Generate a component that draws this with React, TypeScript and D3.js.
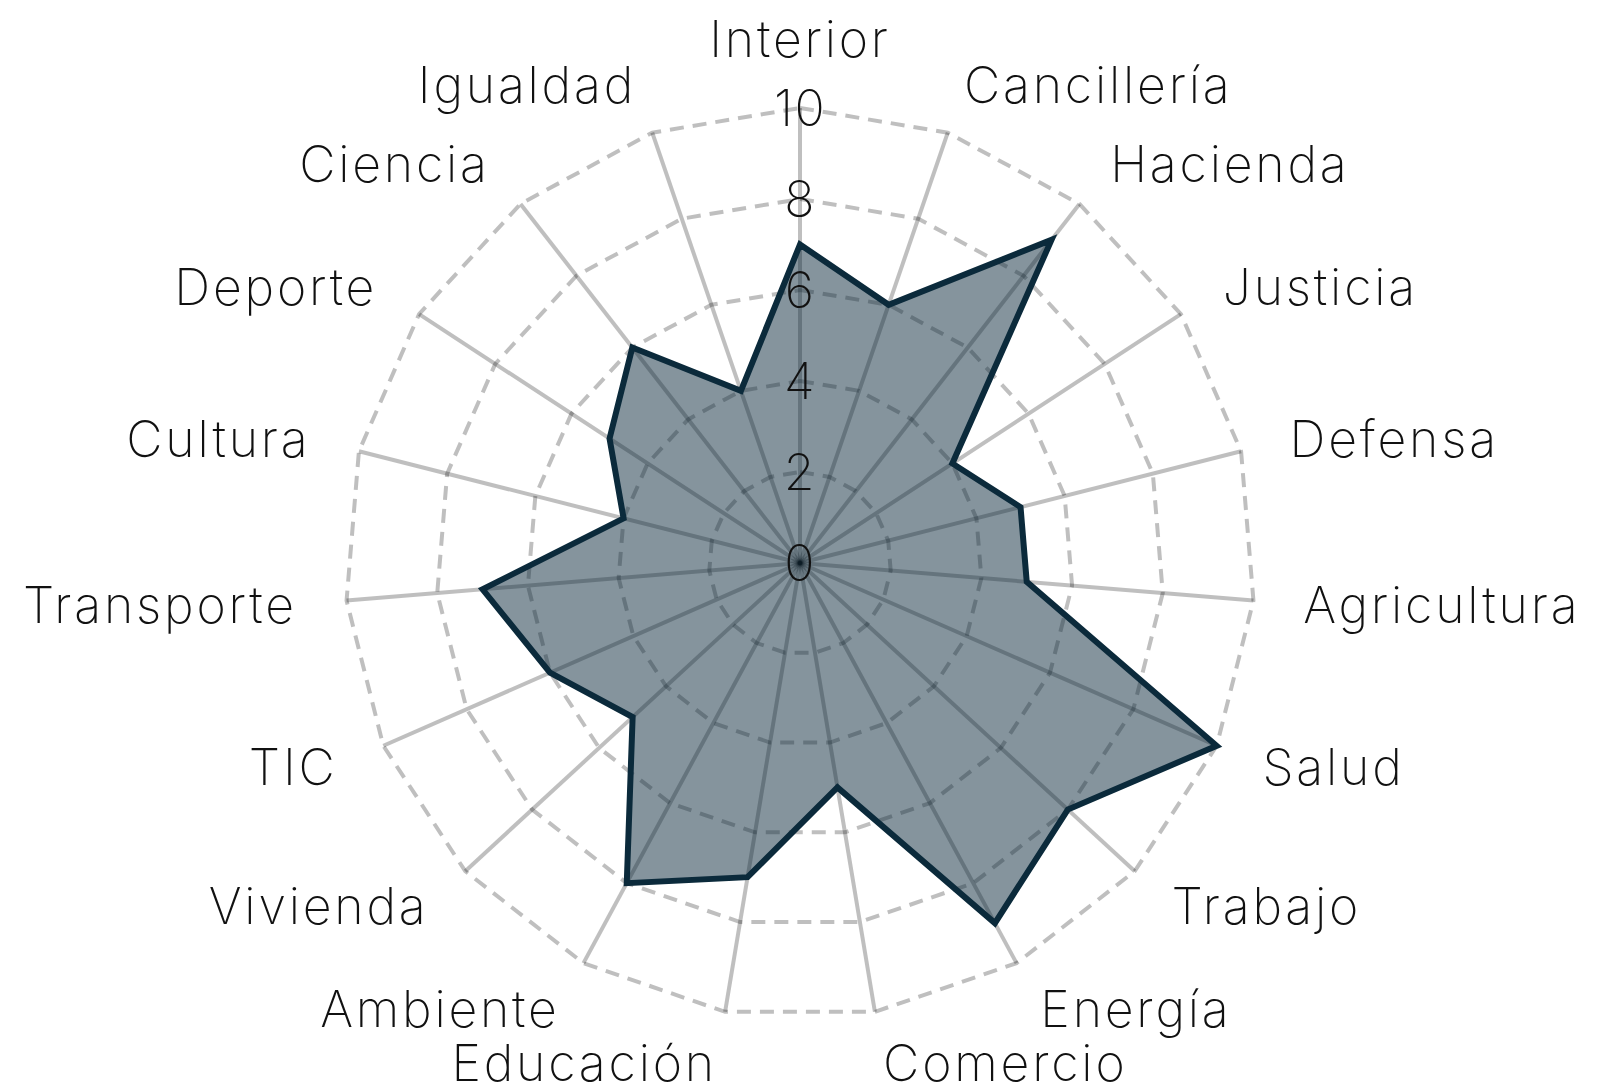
import React from "react";
import * as d3 from "d3";

const categories = ["Interior","Cancillería","Hacienda","Justicia","Defensa","Agricultura","Salud","Trabajo","Energía","Comercio","Educación","Ambiente","Vivienda","TIC","Transporte","Cultura","Deporte","Ciencia","Igualdad"];
const values = [7,6,9,4,5,5,10,8,9,5,7,8,5,6,7,4,5,6,4];
const ticks = [0,2,4,6,8,10];

const W = 1599, H = 1092;
const CX = 800, CY = 563, R = 455;
const FONT = "Inter, 'Open Sans', sans-serif";

export default function App() {
  const n = categories.length;
  const r = d3.scaleLinear().domain([0, 10]).range([0, R]);
  const ang = (i: number) => (i * 2 * Math.PI) / n;
  const pt = (i: number, v: number): [number, number] => [
    CX + r(v) * Math.sin(ang(i)),
    CY - r(v) * Math.cos(ang(i)),
  ];
  const ringPath = (v: number) =>
    d3.line()(categories.map((_, i) => pt(i, v))) + "Z";
  const dataPath =
    d3.line()(values.map((v, i) => pt(i, v))) + "Z";
  const gridColor = "rgba(0,0,0,0.25)";
  const labelR = 505;
  return (
    <svg width={W} height={H} style={{ position: "absolute", left: 0, top: 0, background: "#fff" }}>
      <g>
        {ticks.filter((t) => t > 0).map((t) => (
          <path key={t} d={ringPath(t)} fill="none" stroke={gridColor} strokeWidth={4} strokeDasharray="14,9" />
        ))}
        {categories.map((_, i) => {
          const [x, y] = pt(i, 10);
          return <line key={i} x1={CX} y1={CY} x2={x} y2={y} stroke={gridColor} strokeWidth={4} />;
        })}
      </g>
      <path d={dataPath} fill="#0b2a3b" fillOpacity={0.5} stroke="#0b2a3b" strokeWidth={6} strokeLinejoin="miter" />
      {ticks.map((t) => (
        <text key={t} x={CX} y={CY - r(t)} textAnchor="middle" dominantBaseline="central"
          fontFamily={FONT} fontWeight={250} fontSize={50} letterSpacing={1.5} fill="#111">{t}</text>
      ))}
      {categories.map((c, i) => {
        const dx = Math.sin(ang(i)), dy = -Math.cos(ang(i));
        let x = CX + labelR * dx;
        let y = CY + labelR * dy;
        let anchor = "start";
        if (Math.abs(dx) < 0.05) { anchor = "middle"; y -= 19; }
        else if (dx < 0) anchor = "end";
        if (dy > 0) y += dy * 2;
        return (
          <text key={c} x={x} y={y} textAnchor={anchor} dominantBaseline="central"
            fontFamily={FONT} fontWeight={250} fontSize={50} letterSpacing={2.8} fill="#111">{c}</text>
        );
      })}
    </svg>
  );
}
